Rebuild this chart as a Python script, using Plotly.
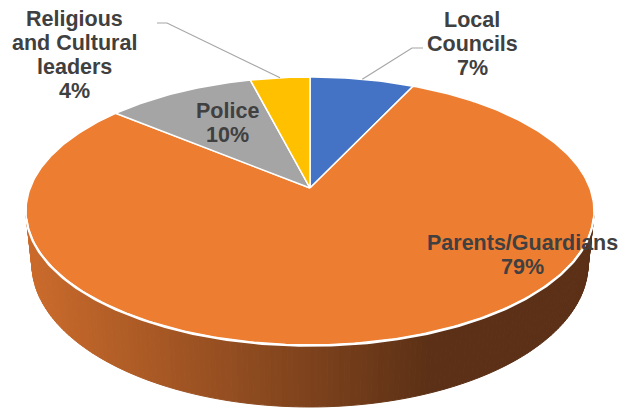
import numpy as np
import plotly.graph_objects as go

# Share of responsibility by group (percent), drawn clockwise from 12 o'clock
categories = ["Local Councils", "Parents/Guardians", "Police", "Religious and Cultural leaders"]
shares = [7, 79, 10, 4]
slice_colors = ["#4472C4", "#ED7D31", "#A5A5A5", "#FFC000"]
label_lines = [["Local", "Councils"], ["Parents/Guardians"], ["Police"],
               ["Religious", "and Cultural", "leaders"]]

W, H = 625, 410

# Perspective projection of the pie disc (pixel space)
CX, CY = 310.0, 188.0      # apex of the slices
A, B = 279.8, 130.0        # horizontal / vertical radii
G = 0.1716                 # perspective foreshortening
DEPTH = 51.4               # thickness of the disc
SHRINK = 0.979             # bottom rim is slightly narrower (converging walls)


def rim(a_deg, drop=0.0):
    a = np.radians(a_deg)
    u, v = np.sin(a), np.cos(a)
    s = 1.0 / (1.0 + G * v)
    k = 1.0 - (1.0 - SHRINK) * drop
    return CX + k * A * u * s, CY - B * v * s + DEPTH * drop * s


def side_color(x, base):
    # horizontal shading of the disc wall: lighter on the left, dark on the right
    t = np.clip((x - 25) / (430 - 25), 0, 1)
    light = np.array([0.86, 0.86, 0.90]) * base
    dark = np.array([0.39, 0.39, 0.45]) * base
    c = light * (1 - t) + dark * t
    return "rgb(%d,%d,%d)" % tuple(np.clip(c, 0, 255).astype(int))


def hex_rgb(h):
    h = h.lstrip("#")
    return np.array([int(h[i:i + 2], 16) for i in (0, 2, 4)], dtype=float)


def silhouette_angle(lo, hi):
    # angle where the wall edge runs tangent to the top rim
    grid = np.linspace(lo, hi, 4001)
    xt, yt = rim(grid)
    xb, yb = rim(grid, 1)
    dx, dy = np.gradient(xt), np.gradient(yt)
    cross = dx * (yb - yt) - dy * (xb - xt)
    idx = np.where(np.diff(np.sign(cross)) != 0)[0]
    return grid[idx[0]] if len(idx) else 0.5 * (lo + hi)


fig = go.Figure()

# slice angle spans
total = float(sum(shares))
bounds = np.concatenate([[0], np.cumsum(shares)]) / total * 360.0

a_sil_r = silhouette_angle(60, 150)
a_sil_l = silhouette_angle(210, 300)

# wall strips over the front half; the top face covers any overlap
wall_angles = np.linspace(a_sil_r - 1, a_sil_l + 1, 161)
for a0, a1 in zip(wall_angles[:-1], wall_angles[1:]):
    am = 0.5 * (a0 + a1)
    idx = int(np.searchsorted(bounds, am % 360, side="right") - 1)
    idx = min(max(idx, 0), len(shares) - 1)
    x0t, y0t = rim(a0)
    x1t, y1t = rim(a1)
    x0b, y0b = rim(a0, 1)
    x1b, y1b = rim(a1, 1)
    col = side_color(0.5 * (x0t + x1t), hex_rgb(slice_colors[idx]))
    fig.add_trace(go.Scatter(
        x=[x0t, x1t, x1b, x0b, x0t], y=[y0t, y1t, y1b, y0b, y0t],
        mode="lines", fill="toself", fillcolor=col,
        line=dict(color=col, width=1), hoverinfo="skip", showlegend=False))

# top face slices
for i, (name, col) in enumerate(zip(categories, slice_colors)):
    angs = np.linspace(bounds[i], bounds[i + 1], max(8, int(shares[i] * 4)))
    xs, ys = rim(angs)
    px = np.concatenate([[CX], xs, [CX]])
    py = np.concatenate([[CY], ys, [CY]])
    fig.add_trace(go.Scatter(
        x=px, y=py, mode="lines", fill="toself", fillcolor=col,
        line=dict(color="white", width=1.5), name=name,
        hoverinfo="name", showlegend=False))

# highlight along the front edge of the top face
ea = np.linspace(a_sil_r, a_sil_l, 200)
ex, ey = rim(ea)
fig.add_trace(go.Scatter(x=ex, y=ey + 0.8, mode="lines",
                         line=dict(color="white", width=2.2),
                         hoverinfo="skip", showlegend=False))

# leader lines from outside labels to slice midpoints
mid = 0.5 * (bounds[:-1] + bounds[1:])
leaders = {0: [(423, 48), (412, 48)], 3: [(157, 23), (167, 23)]}
for i, pts in leaders.items():
    mx, my = rim(mid[i])
    lx = [p[0] for p in pts] + [mx]
    ly = [p[1] for p in pts] + [my]
    fig.add_trace(go.Scatter(x=lx, y=ly, mode="lines",
                             line=dict(color="#A6A6A6", width=1.2),
                             hoverinfo="skip", showlegend=False))

# data labels: centre x and first baseline, 24 px line pitch
label_pos = [(472, 27), (522, 250), (227, 118), (74, 26)]
for i, (cx, base) in enumerate(label_pos):
    lines = label_lines[i] + ["%d%%" % shares[i]]
    for k, t in enumerate(lines):
        fig.add_annotation(
            x=cx, y=base + 24 * k - 7.5, text=t, showarrow=False,
            xanchor="center", yanchor="middle",
            font=dict(family="Liberation Sans, Arial, sans-serif",
                      size=21.5, color="#404040", weight="bold"))

fig.update_layout(
    width=W, height=H, margin=dict(l=0, r=0, t=0, b=0),
    paper_bgcolor="white", plot_bgcolor="white",
    xaxis=dict(range=[0, W], visible=False, fixedrange=True),
    yaxis=dict(range=[H, 0], visible=False, fixedrange=True),
    showlegend=False)

fig.write_html("out.html")
